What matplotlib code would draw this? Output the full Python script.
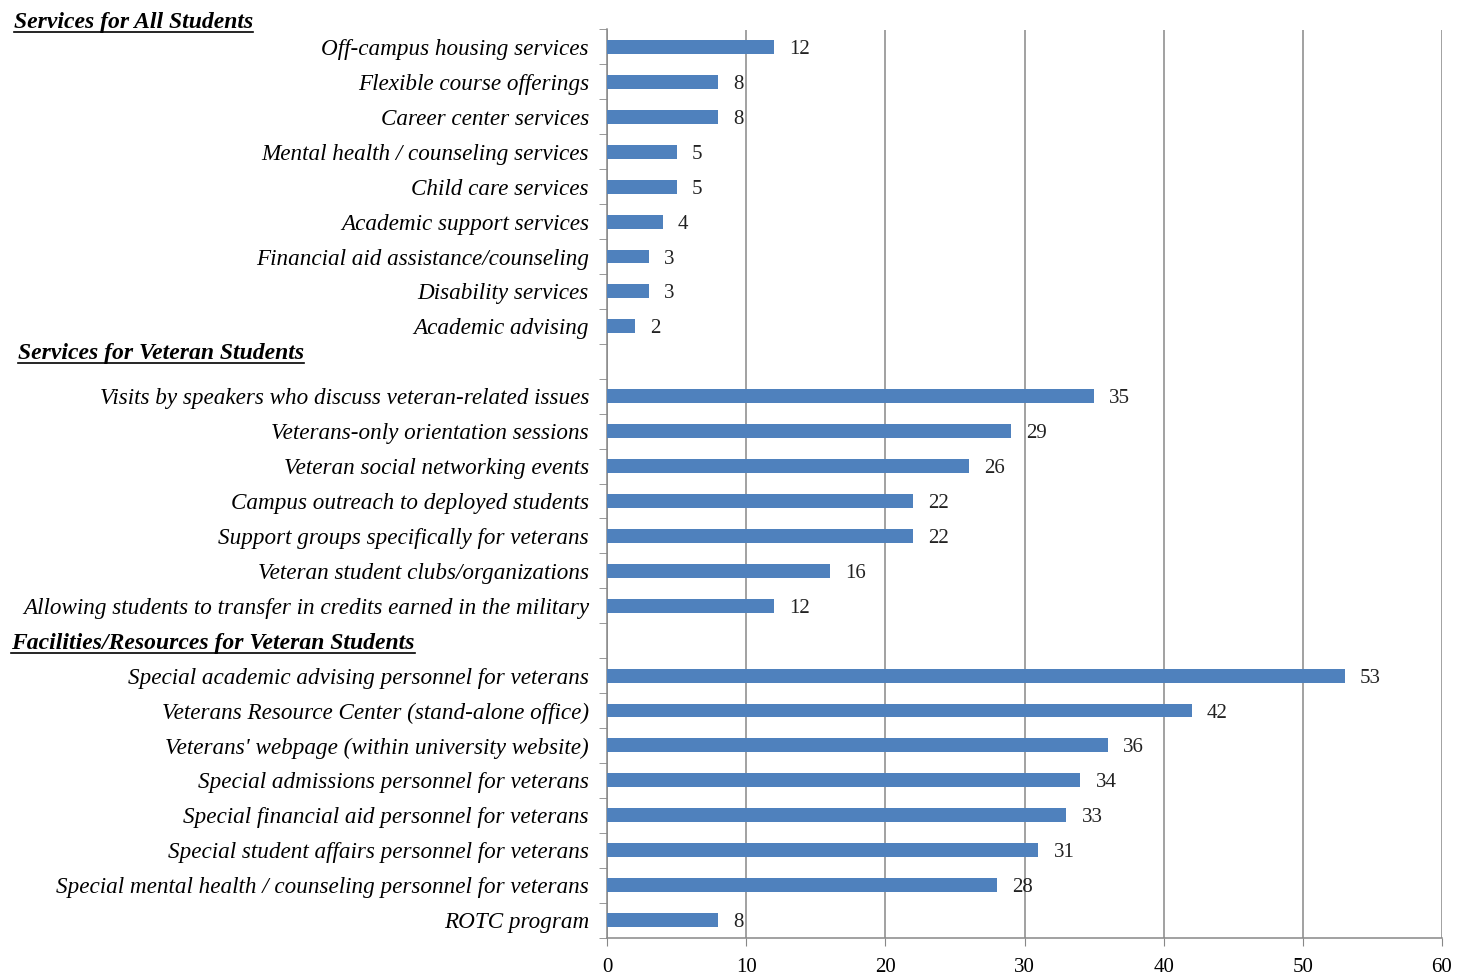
import matplotlib
matplotlib.use('Agg')
import matplotlib.pyplot as plt
from matplotlib.lines import Line2D

# Etiquetas e valores (de cima para baixo), None = linha de título de seção
labels = [
    'Off-campus housing services',
    'Flexible course offerings',
    'Career center services',
    'Mental health / counseling services',
    'Child care services',
    'Academic support services',
    'Financial aid assistance/counseling',
    'Disability services',
    'Academic advising',
    '',
    'Visits by speakers who discuss veteran-related issues',
    'Veterans-only orientation sessions',
    'Veteran social networking events',
    'Campus outreach to deployed students',
    'Support groups specifically for veterans',
    'Veteran student clubs/organizations',
    'Allowing students to transfer in credits earned in the military',
    '',
    'Special academic advising personnel for veterans',
    "Veterans Resource Center (stand-alone office)",
    "Veterans' webpage (within university website)",
    'Special admissions personnel for veterans',
    'Special financial aid personnel for veterans',
    'Special student affairs personnel for veterans',
    'Special mental health / counseling personnel for veterans',
    'ROTC program',
]
values = [12, 8, 8, 5, 5, 4, 3, 3, 2, None,
          35, 29, 26, 22, 22, 16, 12, None,
          53, 42, 36, 34, 33, 31, 28, 8]
x_ticks = [0, 10, 20, 30, 40, 50, 60]

# Títulos das seções
headers = ['Services for All Students', 'Services for Veteran Students',
           'Facilities/Resources for Veteran Students']

W, H = 1470, 976
header_pos = [(14, 20), (18, 351), (11, 641)]  # pixels, a partir do topo

fig = plt.figure(figsize=(W / 100, H / 100), dpi=100)
ax = fig.add_axes([607 / W, 1 - 937.5 / H, (1442 - 607) / W, (937.5 - 29.5) / H])

serif = 'Liberation Serif'
bar_color = '#4F81BD'

ys = [i for i, v in enumerate(values) if v is not None]
vs = [v for v in values if v is not None]
ax.barh(ys, vs, height=0.4, color=bar_color, zorder=3)
for y, v in zip(ys, vs):
    ax.text(v + 1.1, y, str(v), va='center_baseline', ha='left', fontsize=15,
            family=serif, color='#222222', zorder=4)

ax.set_ylim(len(values) - 0.5, -0.5)
ax.set_xlim(0, 60)
ax.set_xticks(x_ticks)
ax.set_xticklabels([str(t) for t in x_ticks], family=serif, fontsize=15)
ax.set_yticks(range(len(values)))
ax.set_yticklabels(labels, family=serif, style='italic', fontsize=16.7)
ax.tick_params(axis='y', length=0, pad=13)
ax.set_yticks([i + 0.5 for i in range(-1, len(values))], minor=True)
ax.tick_params(axis='y', which='minor', length=6, color='#888888')
ax.tick_params(axis='x', length=6, color='#888888', pad=9)

ax.grid(axis='x', color='#888888', linewidth=1.1, zorder=0)
for s in ['top', 'right']:
    ax.spines[s].set_visible(False)
for s in ['left', 'bottom']:
    ax.spines[s].set_color('#888888')
    ax.spines[s].set_linewidth(1.1)

# Títulos sublinhados
fig.canvas.draw()
renderer = fig.canvas.get_renderer()
for txt, (px, py) in zip(headers, header_pos):
    t = fig.text(px / W, 1 - py / H, txt, ha='left', va='center_baseline',
                 family=serif, style='italic', weight='bold', fontsize=17)
    bb = t.get_window_extent(renderer)
    uy = (bb.y0 + 1) / H
    fig.add_artist(Line2D([bb.x0 / W, bb.x1 / W], [uy, uy], color='black',
                          linewidth=1.2, transform=fig.transFigure))

fig.savefig('out.png', dpi=100)
